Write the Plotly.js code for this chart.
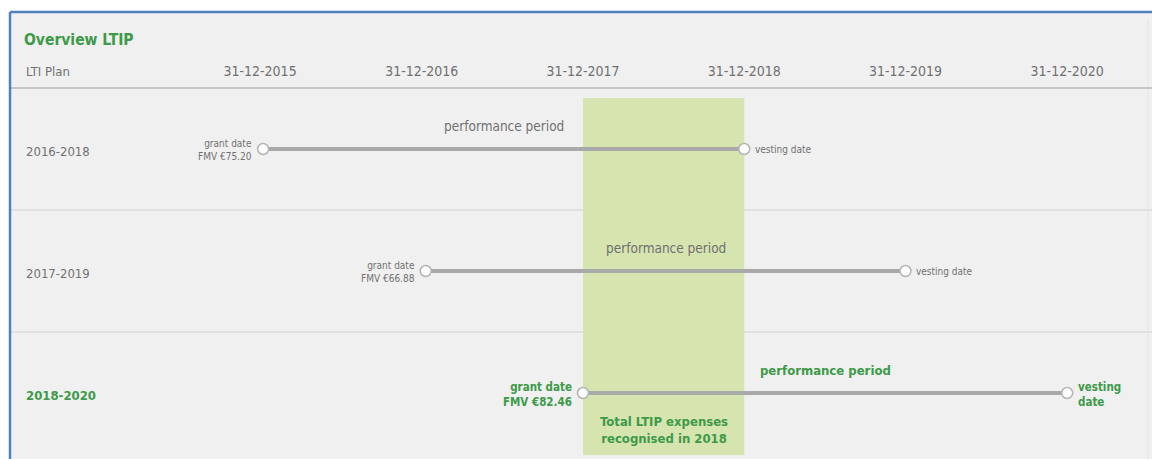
<!DOCTYPE html>
<html>
<head>
<meta charset="utf-8">
<script src="https://cdn.plot.ly/plotly-3.0.1.min.js"></script>
<style>html,body{margin:0;padding:0;background:#fff;}#chart{width:1152px;height:459px;}</style>
</head>
<body>
<div id="chart"></div>
<script>
// ---- data ----
const plans = ['2016-2018', '2017-2019', '2018-2020'];
const grantDates = ['2016-01-07', '2017-01-09', '2017-12-31'];
const vestingDates = ['2018-12-31', '2019-12-31', '2020-12-31'];
const fmvValues = ['€75.20', '€66.88', '€82.46'];
const tickDates = ['2015-12-31', '2016-12-31', '2017-12-31', '2018-12-31', '2019-12-31', '2020-12-31'];
const tickLabels = ['31-12-2015', '31-12-2016', '31-12-2017', '31-12-2018', '31-12-2019', '31-12-2020'];
const highlightStart = '2017-12-31';
const highlightEnd = '2018-12-31';
const highlightText = 'Total LTIP expenses<br>recognised in 2018';
const currentPlan = '2018-2020';

// ---- style ----
const FONT = '"Liberation Sans Narrow", "DejaVu Sans Condensed", "Noto Sans", sans-serif';
const GREEN = '#3c9a48';
const GRAY_TXT = '#707070';

function mid(a, b) {
  const d = new Date((Date.parse(a) + Date.parse(b)) / 2);
  return d.toISOString().slice(0, 19).replace('T', ' ');
}

const traces = plans.map((p, i) => ({
  type: 'scatter',
  mode: 'lines+markers',
  x: [grantDates[i], vestingDates[i]],
  y: [i, i],
  line: {color: '#a9a9a9', width: 4},
  marker: {symbol: 'circle', size: 11, color: '#ffffff', line: {color: '#b4b4b4', width: 1.5}},
  hoverinfo: 'x',
  showlegend: false
}));

const annotations = [];
plans.forEach((p, i) => {
  const cur = p === currentPlan;
  const col = cur ? GREEN : GRAY_TXT;
  const b = s => cur ? '<b>' + s + '</b>' : s;
  // row label
  annotations.push({xref: 'paper', x: 14 / 1142, yref: 'y', y: i + 0.02, text: b(p), showarrow: false,
    xanchor: 'left', yanchor: 'middle', font: {family: FONT, size: 13, color: col}});
  // performance period
  annotations.push({xref: 'x', x: mid(grantDates[i], vestingDates[i]), yref: 'y', y: i, yshift: 23,
    text: b('performance period'), showarrow: false, xanchor: 'center', yanchor: 'middle',
    font: {family: FONT, size: cur ? 13 : 13.5, color: col}});
  // grant label
  annotations.push({xref: 'x', x: grantDates[i], yref: 'y', y: i, xshift: -9, yshift: -1,
    text: b('grant date<br>FMV ' + fmvValues[i]), showarrow: false, xanchor: 'right', yanchor: 'middle', align: 'right',
    font: {family: FONT, size: cur ? 11.5 : 10, color: col}});
  // vesting label
  annotations.push({xref: 'x', x: vestingDates[i], yref: 'y', y: i, xshift: 9, yshift: cur ? -1 : 0,
    text: b(cur ? 'vesting<br>date' : 'vesting date'), showarrow: false, xanchor: 'left', yanchor: 'middle', align: 'left',
    font: {family: FONT, size: cur ? 11.5 : 10, color: col}});
});
annotations.push({xref: 'paper', x: 14 / 1142, yref: 'y', y: -0.634, text: 'LTI Plan', showarrow: false,
  xanchor: 'left', yanchor: 'middle', font: {family: FONT, size: 13, color: GRAY_TXT}});
annotations.push({xref: 'x', x: mid(highlightStart, highlightEnd), yref: 'y', y: 2.307, text: '<b>' + highlightText + '</b>',
  showarrow: false, xanchor: 'center', yanchor: 'middle', align: 'center',
  font: {family: FONT, size: 13, color: GREEN}});

const shapes = [
  {type: 'line', xref: 'paper', x0: 0, x1: 1, yref: 'y', y0: 0.5, y1: 0.5, line: {color: '#d2d2d2', width: 1}, layer: 'below'},
  {type: 'line', xref: 'paper', x0: 0, x1: 1, yref: 'y', y0: 1.5, y1: 1.5, line: {color: '#d2d2d2', width: 1}, layer: 'below'},
  {type: 'line', xref: 'paper', x0: 0.9965, x1: 0.9965, yref: 'paper', y0: 0, y1: 0.985, line: {color: '#e3e3e3', width: 1}, layer: 'below'},
  {type: 'rect', xref: 'x', x0: highlightStart, x1: highlightEnd, yref: 'y', y0: -0.418, y1: 2.508,
    fillcolor: '#d6e4b0', line: {width: 0}, layer: 'below'},
  {type: 'line', xref: 'paper', x0: 0, x1: 1, yref: 'paper', y0: 1, y1: 1, line: {color: '#4f81bd', width: 2.5}, layer: 'above'},
  {type: 'line', xref: 'paper', x0: 0, x1: 0, yref: 'paper', y0: 0, y1: 1, line: {color: '#4f81bd', width: 2.5}, layer: 'above'}
];

const layout = {
  width: 1152, height: 459,
  margin: {l: 10, r: 0, t: 12, b: 0, pad: 0},
  paper_bgcolor: '#ffffff',
  plot_bgcolor: '#f0f0f0',
  showlegend: false,
  title: {text: '<b>Overview LTIP</b>', xref: 'container', x: 24 / 1152, xanchor: 'left',
    yref: 'container', y: 1 - 40 / 459, yanchor: 'middle', font: {family: FONT, size: 15.5, color: GREEN}},
  xaxis: {
    type: 'date', range: ['2014-06-13', '2021-07-11'], side: 'top', anchor: 'free', position: 0.83,
    tickmode: 'array', tickvals: tickDates, ticktext: tickLabels,
    ticks: 'outside', ticklen: 5, tickcolor: 'rgba(0,0,0,0)',
    tickfont: {family: FONT, size: 14, color: GRAY_TXT},
    showgrid: false, zeroline: false, showline: true, linecolor: '#c6c6c6', linewidth: 2, fixedrange: true
  },
  yaxis: {range: [2.541, -1.123], showgrid: false, zeroline: false, showticklabels: false, showline: false, fixedrange: true},
  shapes: shapes,
  annotations: annotations
};

Plotly.newPlot('chart', traces, layout, {displayModeBar: false, responsive: false});
</script>
</body>
</html>
